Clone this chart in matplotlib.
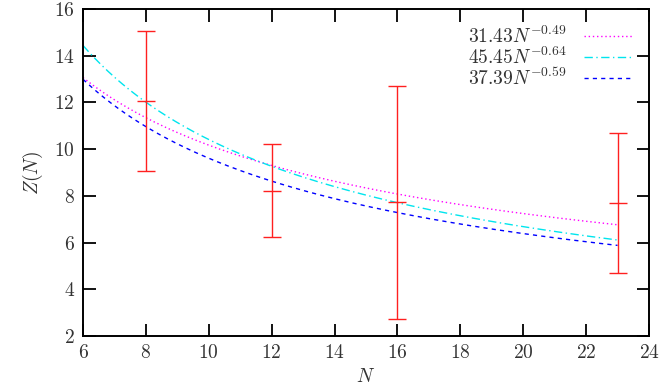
import matplotlib
matplotlib.use("Agg")
import matplotlib.pyplot as plt
import numpy as np

# measured points with error bars
n_points = [8, 12, 16, 23]
z_points = [12.05, 8.22, 7.72, 7.70]
z_errors = [3.0, 2.0, 5.0, 3.0]

# power-law fits  a * N^b  (from legend)
fit_a = [31.43, 45.45, 37.39]
fit_b = [-0.49, -0.64, -0.59]
fit_labels = [r"$31.43N^{-0.49}$", r"$45.45N^{-0.64}$", r"$37.39N^{-0.59}$"]
fit_colors = ["#ff00ff", "#00e5ee", "#0000ff"]
fit_styles = [(0, (1, 2)), (0, (6, 2.5, 1, 2.5)), (0, (3, 3))]

x_ticks = [6, 8, 10, 12, 14, 16, 18, 20, 22, 24]
y_ticks = [2, 4, 6, 8, 10, 12, 14, 16]

plt.rcParams["mathtext.fontset"] = "cm"
plt.rcParams["font.family"] = "serif"
plt.rcParams["font.serif"] = ["cmr10", "DejaVu Serif"]
plt.rcParams["axes.formatter.use_mathtext"] = True

fig = plt.figure(figsize=(6.64, 3.92), dpi=100)
ax = fig.add_axes([83 / 664, 1 - 336 / 392, (649 - 83) / 664, (336 - 9) / 392])

n_fine = np.linspace(6, 23, 300)
for a, b, lab, c, ls in zip(fit_a, fit_b, fit_labels, fit_colors, fit_styles):
    ax.plot(n_fine, a * n_fine ** b, color=c, linestyle=ls, linewidth=1.0, label=lab)

ax.errorbar(n_points, z_points, yerr=z_errors, fmt="none", ecolor="#ff2020",
            elinewidth=1.0, capsize=6.5, capthick=1.0)
# short tick at the centre value, like gnuplot
ax.plot(n_points, z_points, linestyle="none", marker="_", markersize=13,
        markeredgewidth=1.0, color="#ff2020")

ax.set_xlim(6, 24)
ax.set_ylim(2, 16)
ax.set_xticks(x_ticks)
ax.set_yticks(y_ticks)
ax.tick_params(direction="in", length=9, width=1.3, top=True, right=True,
               labelsize=14, labelcolor="#333333", pad=6)
for s in ax.spines.values():
    s.set_linewidth(1.4)

ax.set_xlabel(r"$N$", fontsize=14, color="#333333", labelpad=4)
ax.set_ylabel(r"$Z(N)$", fontsize=14, color="#333333", labelpad=6)

leg = ax.legend(loc="upper right", frameon=False, markerfirst=False, fontsize=14,
                handlelength=2.5, labelspacing=0.0, borderaxespad=0.45,
                handletextpad=0.9)
for t in leg.get_texts():
    t.set_color("#333333")

fig.savefig("out.png", dpi=100)
